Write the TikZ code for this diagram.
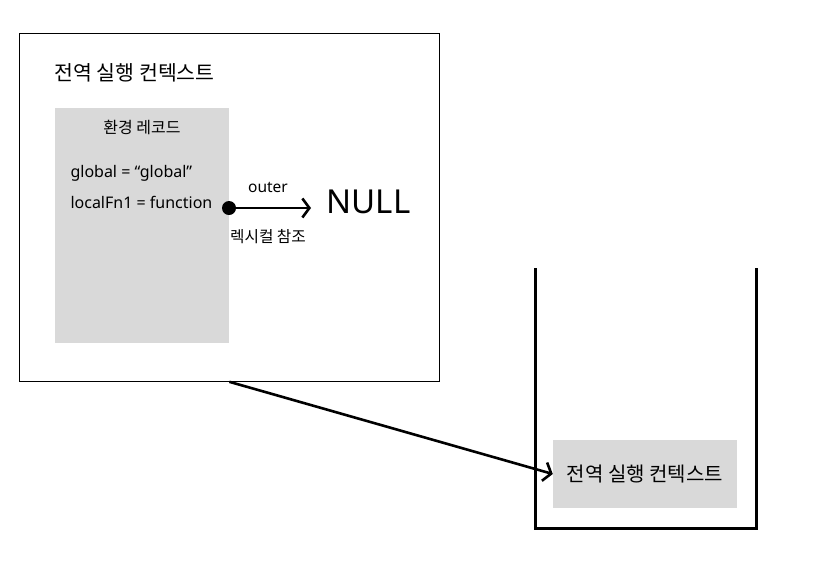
\documentclass[tikz,border=0pt]{standalone}
\usepackage{fontspec}
\setmainfont{Noto Sans}
\newfontfamily\kofont{Noto Sans CJK KR}
\usepackage{tikz}
\usetikzlibrary{positioning}
\usetikzlibrary{calc}
\usetikzlibrary{arrows.meta}

\tikzset{
	grayBox/.style={fill=black!15, draw=none, inner sep=0pt},
	barbArrow/.style={line width=2.6pt, -{Straight Barb[length=7pt,width=19pt]}}
}

\begin{document}
\begin{tikzpicture}[x=1pt, y=-1pt]

	\useasboundingbox (0,0) rectangle (837,563);
	
	\node[
		draw,
		line width=0.8pt,
		minimum width=420pt,
		minimum height=348pt,
		anchor=north west
	] (globalContext) at (19,33) {};
	
	\node[
		anchor=west,
		font=\kofont\fontsize{20.5}{22}\selectfont
	] (globalTitle) at (51,73) {전역 실행 컨텍스트};
	
	\node[
		grayBox,
		minimum width=174pt,
		minimum height=235pt,
		anchor=north west
	] (envRecord) at (55,108) {};
	
	\node[
		font=\kofont\fontsize{16}{18}\selectfont
	] (envTitle) at (142,127) {환경 레코드};
	
	\node[
		anchor=west,
		font=\fontsize{16}{18}\selectfont
	] (globalVar) at (67,173) {global = “global”};
	
	\node[
		anchor=west,
		font=\fontsize{16}{18}\selectfont
	] (localFn) at (67,202) {localFn1 = function};
	
	\node[
		circle,
		fill=black,
		minimum size=14pt,
		inner sep=0pt
	] (outerDot) at (229,208) {};
	
	\node[
		anchor=west,
		font=\fontsize{33}{35}\selectfont
	] (nullNode) at (323,202) {NULL};
	
	\draw[barbArrow, shorten >=12pt] (outerDot.center) -- (nullNode.west |- outerDot);
	
	\node[
		font=\fontsize{15.5}{17}\selectfont
	] (outerLabel) at (268,187) {outer};
	
	\node[
		font=\kofont\fontsize{15.7}{17}\selectfont
	] (lexicalRef) at (268,237) {렉시컬 참조};
	
	% call stack
	\coordinate (stackTopLeft) at (535,268);
	\coordinate (stackTopRight) at (756,268);
	\draw[line width=3pt] (stackTopLeft) -- (535,528) -- (756,528) -- (stackTopRight);
	
	\node[
		grayBox,
		minimum width=184pt,
		minimum height=68pt,
		font=\kofont\fontsize{20}{22}\selectfont
	] (stackContext) at (645,474) {전역 실행 컨텍스트};
	
	\draw[barbArrow] (globalContext.south) -- (stackContext.west);
	
\end{tikzpicture}
\end{document}
